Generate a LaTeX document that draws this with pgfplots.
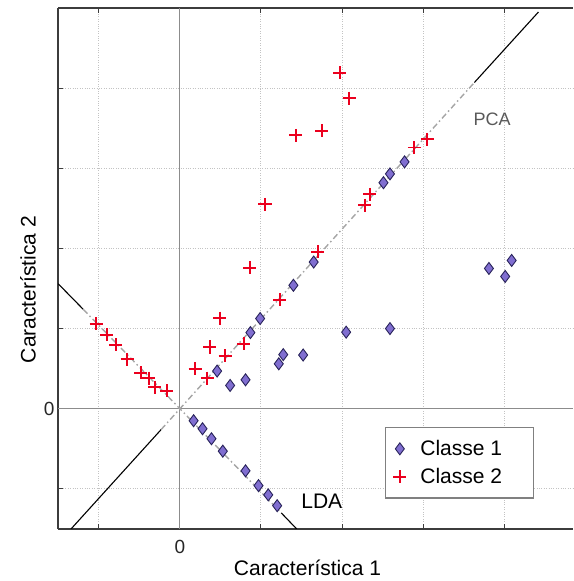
\documentclass[border=0pt]{standalone}
\usepackage{fontspec}
\setmainfont{Liberation Sans}
\usepackage{pgfplots}
\pgfplotsset{compat=1.18}
\definecolor{cpurple}{RGB}{128,110,208}
\definecolor{cpedge}{RGB}{40,35,90}
\definecolor{cred}{RGB}{235,0,30}
\definecolor{cgrid}{RGB}{195,195,195}
\definecolor{czero}{RGB}{140,140,140}
\definecolor{cdash}{RGB}{165,165,165}
\definecolor{caxis}{RGB}{60,60,60}
\begin{document}
\begin{tikzpicture}
\begin{axis}[
  x=81pt, y=80pt,
  xmin=-1.5, xmax=4.85, ymin=-1.5, ymax=5,
  axis x line*=box, axis y line*=left,
  axis line style={caxis, line width=1.3pt},
  xtick={-1,1,2,3,4,5}, ytick={-1,1,2,3,4},
  xticklabels={}, yticklabels={},
  tick align=inside, major tick length=5pt,
  tick style={caxis, line width=1pt},
  grid=major, major grid style={cgrid, dotted, line width=1pt},
  extra x ticks={0}, extra y ticks={0},
  extra x tick labels={0}, extra y tick labels={0},
  extra tick style={grid=major, major grid style={czero, solid, line width=1.3pt}, major tick length=0pt},
  ticklabel style={font=\fontsize{19}{22}\selectfont, text=black!85},
  xticklabel style={yshift=-8pt},
  /pgf/number format/assume math mode=true,
  legend style={at={(0.924,0.196)}, anchor=north east, draw=gray, line width=1.2pt,
    font=\fontsize{21}{25}\selectfont, fill=white, inner xsep=8pt, inner ysep=11pt,
    row sep=7pt, column sep=12pt, cells={anchor=west}},
]
% PCA line
\addplot[forget plot, black, line width=1.1pt] coordinates {(-1.34,-1.50) (-0.23,-0.26)};
\addplot[forget plot, cdash, line width=1.4pt, dash pattern=on 6pt off 3pt on 1.5pt off 3pt] coordinates {(-0.23,-0.26) (3.63,4.07)};
\addplot[forget plot, black, line width=1.1pt] coordinates {(3.63,4.07) (4.42,4.95)};
% LDA line
\addplot[forget plot, black, line width=1.1pt] coordinates {(-1.50,1.56) (-1.19,1.24)};
\addplot[forget plot, cdash, line width=1.4pt, dash pattern=on 6pt off 3pt on 1.5pt off 3pt] coordinates {(-1.19,1.24) (1.25,-1.30)};
\addplot[forget plot, black, line width=1.1pt] coordinates {(1.25,-1.30) (1.44,-1.50)};
% Classe 1
\addplot[only marks, mark=diamond*, mark size=6pt, mark options={fill=cpurple, draw=cpedge, line width=0.9pt}] coordinates {
(2.77,3.08) (2.59,2.93) (2.51,2.82) (1.65,1.83) (1.40,1.54) (0.99,1.125) (0.87,0.95)
(2.05,0.955) (2.59,1.00) (1.275,0.675) (1.52,0.67) (1.22,0.56) (0.46,0.47) (0.62,0.29)
(0.81,0.36) (4.09,1.85) (3.81,1.75) (4.01,1.65)
(0.17,-0.15) (0.28,-0.25) (0.39,-0.375) (0.53,-0.53) (0.81,-0.775) (0.97,-0.96) (1.09,-1.075) (1.20,-1.21)
};
\addlegendentry{\makebox[103pt][l]{Classe 1}}
% Classe 2
\addplot[only marks, cred, mark=+, mark size=6.5pt, mark options={cred, line width=1.9pt}] coordinates {
(1.97,4.19) (2.09,3.875) (1.43,3.41) (1.75,3.47) (3.05,3.36) (2.89,3.26) (2.34,2.675)
(2.28,2.54) (1.05,2.55) (1.70,1.96) (0.86,1.76) (1.23,1.36) (0.49,1.13) (0.79,0.81)
(0.37,0.77) (0.56,0.66) (0.19,0.50) (0.34,0.38)
(-1.03,1.06) (-0.90,0.925) (-0.79,0.80) (-0.65,0.615) (-0.48,0.45) (-0.38,0.38) (-0.31,0.27) (-0.16,0.225)
};
\addlegendentry{\makebox[103pt][l]{Classe 2}}
\node[text=black!65, font=\fontsize{18}{20}\selectfont] at (axis cs:3.85,3.61) {PCA};
\node[font=\fontsize{21}{24}\selectfont] at (axis cs:1.75,-1.15) {LDA};
\end{axis}
\node[font=\fontsize{21}{24}\selectfont] at ([xshift=249pt,yshift=-39pt]current axis.south west) {Característica 1};
\node[rotate=90, font=\fontsize{21}{24}\selectfont] at ([xshift=-30pt,yshift=-21pt]current axis.west) {Característica 2};
\pgfresetboundingbox
\path ([xshift=-58pt,yshift=-52pt]current axis.south west) rectangle ([yshift=8pt]current axis.north east);
\end{tikzpicture}
\end{document}
